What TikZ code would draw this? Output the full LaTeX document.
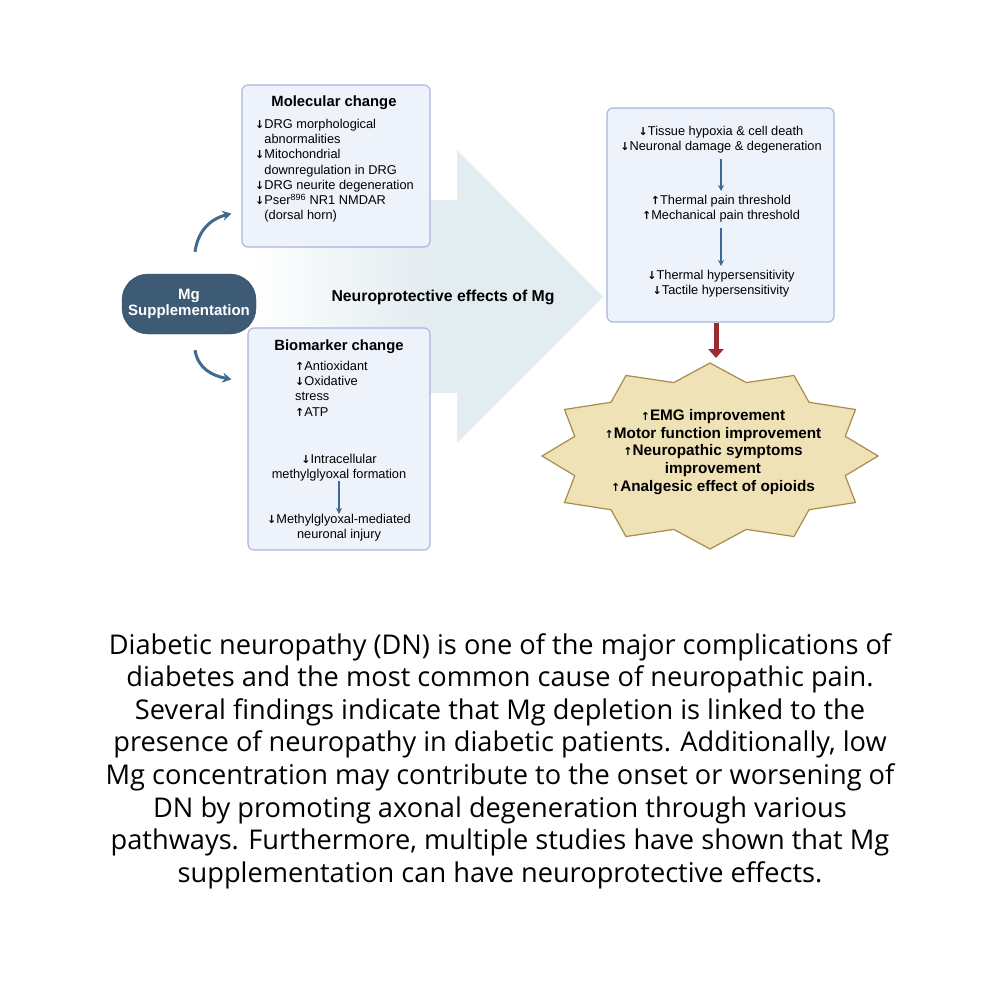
\documentclass[tikz,border=0pt]{standalone}
\usepackage{fontspec}
\setmainfont{Liberation Sans}
\newfontfamily\capfont{Open Sans}
\newfontfamily\arrfont{DejaVu Sans}
\usetikzlibrary{arrows.meta,calc}
\definecolor{boxfill}{HTML}{EEF2FA}
\definecolor{boxline}{HTML}{A7B4DE}
\definecolor{pillc}{HTML}{3E5B75}
\definecolor{bigarr}{HTML}{E3ECF0}
\definecolor{blu}{HTML}{3E6896}
\definecolor{curvc}{HTML}{416A8C}
\definecolor{redc}{HTML}{9C2B30}
\definecolor{starfill}{HTML}{F0E2B7}
\definecolor{starline}{HTML}{A98B4C}
\newcommand{\dn}{{\arrfont\bfseries\fontsize{11}{10}\selectfont ↓}}
\newcommand{\upa}{{\arrfont\bfseries\fontsize{11}{10}\selectfont ↑}}
\tikzset{
  box/.style={draw=boxline, fill=boxfill, rounded corners=6pt, line width=1.1pt},
  ttl/.style={font=\bfseries\fontsize{14.8}{16}\selectfont, inner sep=0},
  txl/.style={font=\fontsize{12.8}{15.2}\selectfont, align=left, inner sep=0},
  txc/.style={font=\fontsize{12.8}{15.2}\selectfont, align=center, inner sep=0},
  barrow/.style={draw=blu, line width=1.4pt, -{Stealth[length=6pt,width=6pt]}},
  curv/.style={draw=curvc, line width=3pt, -{Stealth[length=9pt,width=10pt]}},
}
\begin{document}
\begin{tikzpicture}[x=1pt,y=-1pt]
\useasboundingbox[fill=white] (0,0) rectangle (1000,1000);
% big arrow
\path[left color=white, right color=bigarr, middle color=bigarr]
  (250,200) -- (457,200) -- (457,150) -- (603,297) -- (457,443) -- (457,393) -- (250,393) -- cycle;
% boxes
\node[box, minimum width=188, minimum height=162] (mol) at (336,166) {};
\node[box, minimum width=182, minimum height=222] (bio) at (339,439) {};
\node[box, minimum width=227, minimum height=214] (eff) at (720.5,215) {};
% pill
\node[fill=pillc, draw=pillc!80!black, rounded corners=26pt, minimum width=134, minimum height=60,
  text=white, font=\bfseries\fontsize{15}{16.5}\selectfont, align=center, inner sep=0] (mg) at (189,304)
  {Mg\\Supplementation};
% molecular text
\node[ttl] (molt) at (334,103) {Molecular change};
\node[txl, anchor=north west] (molx) at (255,119) {\dn DRG morphological\\
\phantom{\dn}abnormalities\\
\dn Mitochondrial\\
\phantom{\dn}downregulation in DRG\\
\dn DRG neurite degeneration\\
\dn Pser\textsuperscript{896} NR1 NMDAR\\
\phantom{\dn}(dorsal horn)};
% biomarker text
\node[ttl] (biot) at (339,347) {Biomarker change};
\node[txl, anchor=north west] (bio1) at (295,361) {\upa Antioxidant\\
\dn Oxidative\\
stress\\
\upa ATP};
\node[txc, anchor=north] (bio2) at (339,454) {\dn Intracellular\\methylglyoxal formation};
\node[txc, anchor=north] (bio3) at (339,514) {\dn Methylglyoxal-mediated\\neuronal injury};
\draw[barrow] (bio2.south) ++(0,-1) -- (bio3.north);
% effects text
\node[txc, anchor=north] (e1) at (721,126) {\dn Tissue hypoxia \& cell death\\\dn Neuronal damage \& degeneration};
\node[txc, anchor=north] (e2) at (721,195) {\upa Thermal pain threshold\\\upa Mechanical pain threshold};
\node[txc, anchor=north] (e3) at (721,270) {\dn Thermal hypersensitivity\\\dn Tactile hypersensitivity};
\draw[barrow, shorten <=5pt, shorten >=4pt] (e1.south) -- (e2.north);
\draw[barrow, shorten <=5pt, shorten >=4pt] (e2.south) -- (e3.north);
% label
\node[font=\bfseries\fontsize{15.8}{17}\selectfont, inner sep=0] (lab) at (443,297) {Neuroprotective effects of Mg};
% star
\path[fill=starfill, draw=starline, line width=1.2pt]
  \foreach \i in {0,...,11} {
    \ifnum\i=0 ({710+168*cos(90)},{456-93*sin(90)}) \else -- ({710+168*cos(90+30*\i)},{456-93*sin(90+30*\i)}) \fi
    -- ({710+140*cos(105+30*\i)},{456-76*sin(105+30*\i)})
  } -- cycle;
\coordinate (startop) at (710,363);
\node[font=\bfseries\fontsize{15.3}{17.6}\selectfont, align=center, inner sep=0] (starx) at (713,452)
 {\upa EMG improvement\\\upa Motor function improvement\\\upa Neuropathic symptoms\\improvement\\\upa Analgesic effect of opioids};
\draw[redc, line width=5pt, -{Triangle[length=9pt,width=15pt]}] (eff.south -| 716,0) -- (716,358);
% curved arrows
\coordinate (c1) at ($(mg.north)+(6,-22)$);
\coordinate (c1e) at ($(mol.south west)+(-10,-34)$);
\draw[curv] (c1) .. controls ($(c1)+(3,-22)$) and ($(c1e)+(-20,5)$) .. (c1e);
\coordinate (c2) at ($(mg.south)+(6,16)$);
\coordinate (c2e) at ($(bio.north west)+(-16,52)$);
\draw[curv] (c2) .. controls ($(c2)+(3,18)$) and ($(c2e)+(-20,-4)$) .. (c2e);
% caption
\node[font=\capfont\fontsize{27.2}{32.6}\selectfont, align=center, inner sep=0] (cap) at (500,761)
{Diabetic neuropathy (DN) is one of the major complications of\\
diabetes and the most common cause of neuropathic pain.\\
Several findings indicate that Mg depletion is linked to the\\
presence of neuropathy in diabetic patients. Additionally, low\\
Mg concentration may contribute to the onset or worsening of\\
DN by promoting axonal degeneration through various\\
pathways. Furthermore, multiple studies have shown that Mg\\
supplementation can have neuroprotective effects.};
\end{tikzpicture}
\end{document}
